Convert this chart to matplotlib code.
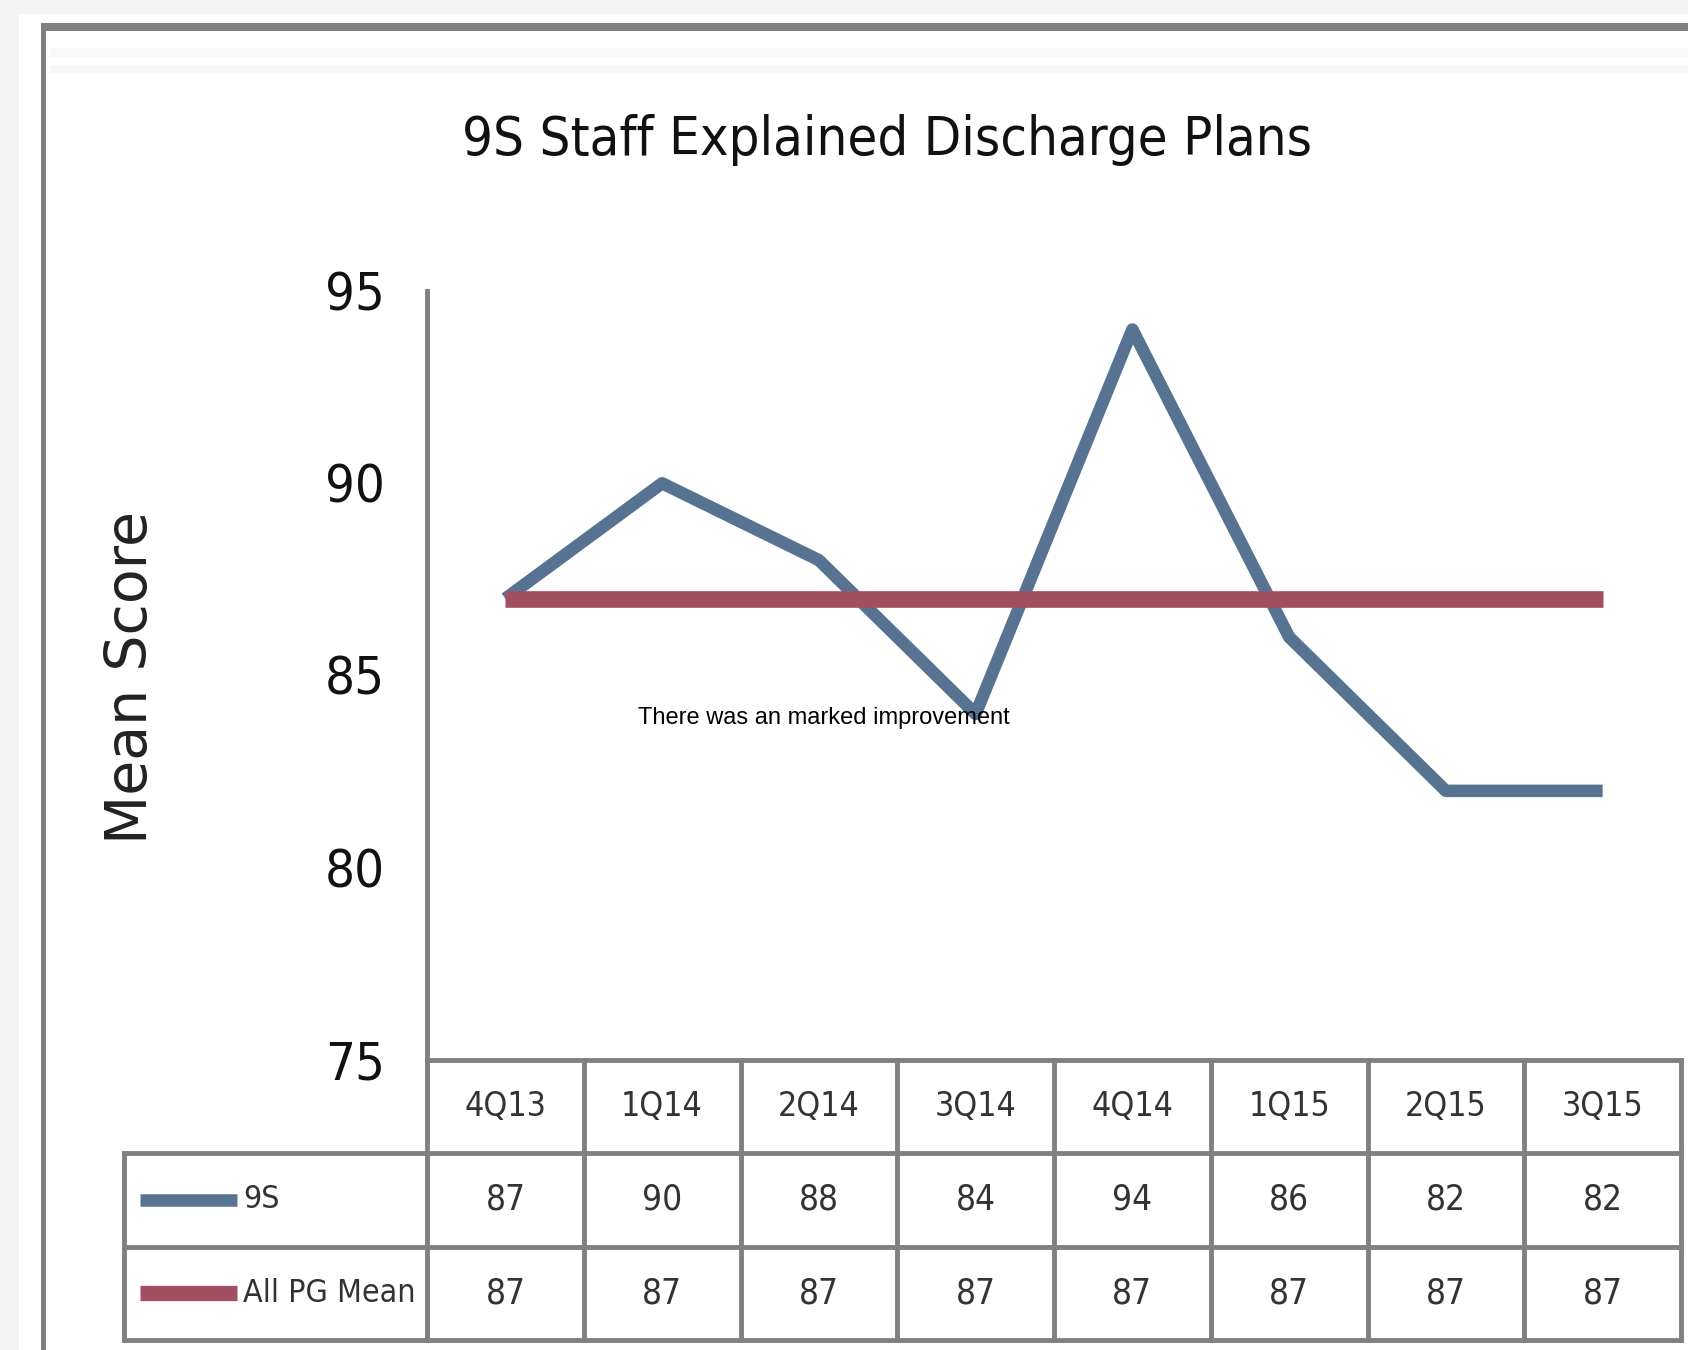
import matplotlib
matplotlib.use('Agg')
import matplotlib.pyplot as plt
from matplotlib.patches import Rectangle
from matplotlib import font_manager
from matplotlib.font_manager import FontProperties

# data
quarters = ['4Q13', '1Q14', '2Q14', '3Q14', '4Q14', '1Q15', '2Q15', '3Q15']
unit_9s = [87, 90, 88, 84, 94, 86, 82, 82]
all_pg_mean = [87, 87, 87, 87, 87, 87, 87, 87]
series_names = ['9S', 'All PG Mean']
yticks = [75, 80, 85, 90, 95]

W, H = 1688, 1350
BLUE = '#587392'
RED = '#a34f62'
GRID = '#808080'

# pick the narrowest sans face that is installed
fonts = font_manager.fontManager.ttflist
if any(f.name == 'Liberation Sans Narrow' for f in fonts):
    NARROW, STRETCH = 'Liberation Sans Narrow', 'normal'
elif any(f.name == 'DejaVu Sans' and f.stretch == 'condensed' for f in fonts):
    NARROW, STRETCH = 'DejaVu Sans', 'condensed'
else:
    NARROW, STRETCH = 'Liberation Sans', 'normal'

fig = plt.figure(figsize=(W / 100, H / 100), dpi=100)
fig.patch.set_facecolor('white')
renderer = fig.canvas.get_renderer()


def fit_size(s, target_w, max_pt, weight='normal'):
    # font size that makes s about target_w pixels wide
    fp = FontProperties(family=NARROW, stretch=STRETCH, weight=weight, size=100)
    w, h, d = renderer.get_text_width_height_descent(s, fp, False)
    return min(100 * target_w / w, max_pt)


def px_rect(x0, y0, x1, y1, color):
    # rectangle given in image pixels (origin top-left)
    fig.add_artist(Rectangle((x0 / W, 1 - y1 / H), (x1 - x0) / W, (y1 - y0) / H,
                             transform=fig.transFigure, facecolor=color,
                             edgecolor='none', zorder=-5))


# outer frame of the screenshot
px_rect(0, 0, W, 14, '#f4f4f4')
px_rect(0, 0, 19, H, '#f4f4f4')
px_rect(50, 48, W, 57, '#f8f8f8')
px_rect(50, 65, W, 73, '#f8f8f8')
px_rect(41, 23, W, 31, GRID)
px_rect(41, 23, 46, H, GRID)

# main plot
ax = fig.add_axes([427 / W, 1 - 1060 / H, 1254 / W, 769 / H])
x = list(range(len(quarters)))
ax.plot(x, unit_9s, color=BLUE, lw=9, solid_capstyle='butt', zorder=2)
ax.plot(x, all_pg_mean, color=RED, lw=12, solid_capstyle='butt', zorder=3)
ax.set_xlim(-0.5, len(quarters) - 0.5)
ax.set_ylim(75, 95)
ax.set_yticks(yticks)
ax.set_xticks([])
tick_pt = fit_size('95', 60, 46)
ax.tick_params(axis='y', length=0, pad=30, labelsize=tick_pt)
for lab in ax.get_yticklabels():
    lab.set_family(NARROW)
    lab.set_stretch(STRETCH)
    lab.set_color('#111111')
for s in ['top', 'right', 'bottom']:
    ax.spines[s].set_visible(False)
ax.spines['left'].set_color(GRID)
ax.spines['left'].set_linewidth(3.5)
ax.set_facecolor('none')

# data table under the plot
tab = fig.add_axes([427 / W, 1 - 1340 / H, 1254 / W, 280 / H])
tab.set_xlim(-0.5, len(quarters) - 0.5)
tab.set_ylim(3, 0)
tab.axis('off')
left_edge = -2.433
for k in range(len(quarters) + 1):
    tab.plot([k - 0.5, k - 0.5], [0, 3], color=GRID, lw=3.5, clip_on=False)
tab.plot([left_edge, left_edge], [1, 3], color=GRID, lw=3.5, clip_on=False)
tab.plot([-0.5, len(quarters) - 0.5], [0, 0], color=GRID, lw=3.5, clip_on=False)
for r in [1, 2, 3]:
    tab.plot([left_edge, len(quarters) - 0.5], [r, r], color=GRID, lw=3.5,
             clip_on=False)

head_pt = fit_size('4Q13', 82, 32)
val_pt = fit_size('87', 40, 32)
leg_pt = fit_size('All PG Mean', 172, 32)
txt = dict(ha='center', va='center', family=NARROW, stretch=STRETCH, color='#333333')
for i, q in enumerate(quarters):
    tab.text(i, 0.5, q, fontsize=head_pt, **txt)
    tab.text(i, 1.5, str(unit_9s[i]), fontsize=val_pt, **txt)
    tab.text(i, 2.5, str(all_pg_mean[i]), fontsize=val_pt, **txt)

for row, name, col, lw in [(1.5, series_names[0], BLUE, 9), (2.5, series_names[1], RED, 11)]:
    tab.plot([-2.331, -1.712], [row, row], color=col, lw=lw,
             solid_capstyle='butt', clip_on=False)
    tab.text(-1.674, row, name, ha='left', va='center', fontsize=leg_pt,
             family=NARROW, stretch=STRETCH, color='#333333')

# titles and note
title = '9S Staff Explained Discharge Plans'
fig.text(887 / W, 1 - 140 / H, title, ha='center', va='center',
         fontsize=fit_size(title, 850, 54), family=NARROW,
         stretch=STRETCH, color='#111111')
fig.text(132 / W, 1 - 678 / H, 'Mean Score', rotation=90, ha='center',
         va='center', fontsize=41, family='DejaVu Sans', color='#222222')
fig.text(638 / W, 1 - 724 / H, 'There was an marked improvement', ha='left',
         va='baseline', fontsize=17, family=['Liberation Sans', 'DejaVu Sans'],
         color='black')

fig.savefig('out.png', dpi=100)
